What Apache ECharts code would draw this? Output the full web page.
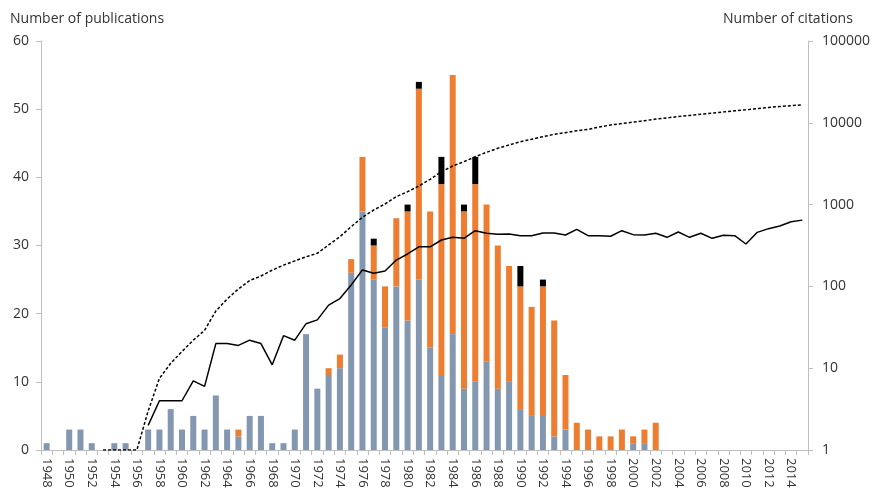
<!DOCTYPE html>
<html>
<head>
<meta charset="utf-8">
<script src="https://cdn.jsdelivr.net/npm/echarts@6/dist/echarts.min.js"></script>
<style>
  html, body { margin: 0; padding: 0; background: #fff; }
  #main { width: 875px; height: 494px; }
</style>
</head>
<body>
<div id="main"></div>
<script>
var years = [];
for (var y = 1948; y <= 2015; y++) years.push(String(y));

// publications per year (stacked)
var pubBlue = [1,0,3,3,1,0,1,1,0,3, 3,6,3,5,3,8,3,2,5,5, 1,1,3,17,9,11,12,26,35,25,
               18,24,19,25,15,11,17,9,10,13, 9,10,6,5,5,2,3,0,0,0,
               0,0,1,1,0,0,0,0,0,0, 0,0,0,0,0,0,0,0];
var pubOrange = [0,0,0,0,0,0,0,0,0,0, 0,0,0,0,0,0,0,1,0,0, 0,0,0,0,0,1,2,2,8,5,
                 6,10,16,28,20,28,38,26,29,23, 21,17,18,16,19,17,8,4,3,2,
                 2,3,1,2,4,0,0,0,0,0, 0,0,0,0,0,0,0,0];
var pubBlack = [0,0,0,0,0,0,0,0,0,0, 0,0,0,0,0,0,0,0,0,0, 0,0,0,0,0,0,0,0,0,1,
                0,0,1,1,0,4,0,1,4,0, 0,0,3,0,1,0,0,0,0,0,
                0,0,0,0,0,0,0,0,0,0, 0,0,0,0,0,0,0,0];

// citations per year (solid) and cumulative citations (dashed)
var citesYear = [null,null,null,null,null,null,null,null,null,2,
                 4,4,4,7,6,20,20,19,22,20, 11,25,22,35,39,59,71,104,159,145,
                 154,210,249,305,305,369,400,387,480,446, 433,437,417,417,450,450,425,499,417,417,
                 410,480,429,425,446,398,462,398,446,387, 421,417,330,458,508,547,617,646];
var citesCum = [null,null,null,null,null,1,1,1,1,3,
                7.5,11.5,16,22,29,50,70,93,118,134, 158,182,205,230,254,321,405,537,700,859,
                1017,1250,1438,1688,2037,2523,2964,3350,3850,4360, 4880,5350,5880,6290,6770,7230,7570,8010,8300,8900,
                9400,9800,10200,10600,11100,11500,11900,12300,12700,13100, 13600,14000,14400,14900,15400,15800,16200,16600];

var chart = echarts.init(document.getElementById('main'));
var axisGray = '#bfbfbf';
var textGray = '#333333';
var font = 'Open Sans';

var option = {
    animation: false,
    textStyle: { fontFamily: font },
    graphic: [
        { type: 'text', left: 10, top: 12, style: { text: 'Number of publications', fontSize: 14, fontFamily: font, fill: textGray } },
        { type: 'text', left: 723, top: 12, style: { text: 'Number of citations', fontSize: 14, fontFamily: font, fill: textGray } }
    ],
    grid: { left: 41, right: 67, top: 41, bottom: 44 },
    xAxis: {
        type: 'category',
        data: years,
        axisLine: { lineStyle: { color: axisGray } },
        axisTick: { show: true, interval: 0, length: 5, lineStyle: { color: axisGray } },
        axisLabel: { interval: 1, rotate: -90, fontSize: 13, color: textGray, margin: 8 }
    },
    yAxis: [
        {
            type: 'value', min: 0, max: 60, interval: 10,
            axisLine: { show: true, lineStyle: { color: axisGray } },
            axisTick: { show: true, length: 5, lineStyle: { color: axisGray } },
            axisLabel: { fontSize: 14, color: textGray, margin: 12 },
            splitLine: { show: false }
        },
        {
            type: 'log', logBase: 10, min: 1, max: 100000, position: 'right',
            axisLine: { show: true, lineStyle: { color: axisGray } },
            axisTick: { show: true, length: 5, lineStyle: { color: axisGray } },
            axisLabel: { fontSize: 14, color: textGray, margin: 14,
                         formatter: function (v) { return String(Math.round(v)); } },
            splitLine: { show: false }
        }
    ],
    series: [
        { name: 'a', type: 'bar', stack: 'pub', barWidth: 6, data: pubBlue, itemStyle: { color: '#8497b0' } },
        { name: 'b', type: 'bar', stack: 'pub', barWidth: 6, data: pubOrange, itemStyle: { color: '#ed7d31' } },
        { name: 'c', type: 'bar', stack: 'pub', barWidth: 6, data: pubBlack, itemStyle: { color: '#000000' } },
        { name: 'cum', type: 'line', yAxisIndex: 1, data: citesCum, symbol: 'none', z: 5,
          lineStyle: { color: '#000', width: 1.5, type: [3, 2] } },
        { name: 'yr', type: 'line', yAxisIndex: 1, data: citesYear, symbol: 'none', z: 5,
          lineStyle: { color: '#000', width: 1.5 } }
    ]
};

chart.setOption(option);
window.addEventListener('resize', function () { chart.resize(); });
</script>
</body>
</html>
